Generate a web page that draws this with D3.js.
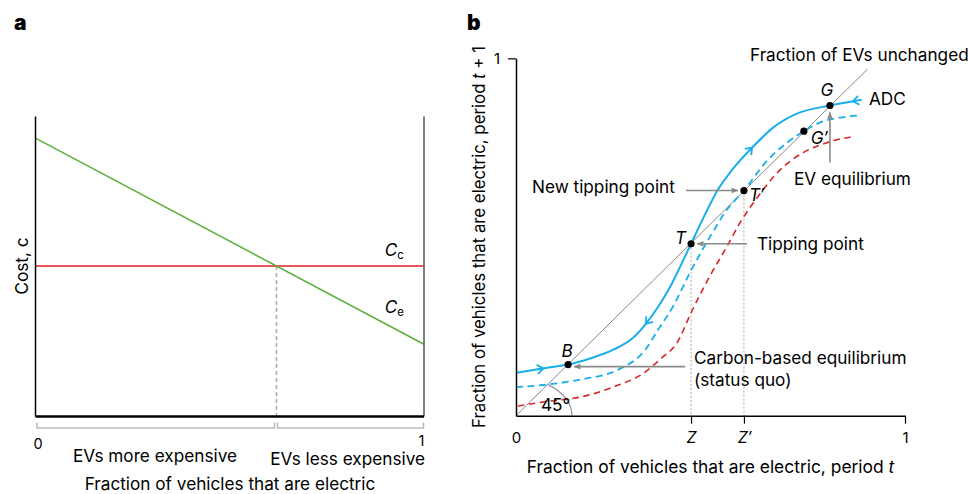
<!DOCTYPE html>
<html><head><meta charset="utf-8">
<script src="https://cdn.jsdelivr.net/npm/d3@7"></script>
<style>html,body{margin:0;padding:0;background:#fff;} svg{display:block;font-family:Inter,"Liberation Sans",Arial,sans-serif;}</style>
</head><body><svg id="c" width="968" height="494"></svg>
<script>
// ---------- Panel a data ----------
const aX = [0, 1];
const costElectric = [0.927, 0.24];
const costCarbon = [0.5, 0.5];
const aTickLabels = ["0", "1"];
const aRegionLabels = ["EVs more expensive", "EVs less expensive"];

// ---------- Panel b data ----------
const adcX = [0, 0.080, 0.134, 0.19, 0.249, 0.301, 0.334, 0.365, 0.396, 0.422, 0.45, 0.481, 0.517, 0.558, 0.607, 0.661, 0.722, 0.807, 0.889];
const adcY = [0.12, 0.134, 0.143, 0.16, 0.184, 0.218, 0.257, 0.304, 0.36, 0.417, 0.481, 0.552, 0.629, 0.691, 0.75, 0.806, 0.845, 0.868, 0.884];
const shiftX = [0, 0.08, 0.165, 0.267, 0.332, 0.365, 0.406, 0.447, 0.499, 0.542, 0.586, 0.645, 0.697, 0.74, 0.781, 0.833, 0.879];
const shiftY = [0.08, 0.087, 0.101, 0.131, 0.184, 0.24, 0.31, 0.4, 0.501, 0.576, 0.63, 0.713, 0.764, 0.796, 0.82, 0.834, 0.84];
const redX = [0.005, 0.087, 0.165, 0.249, 0.332, 0.375, 0.414, 0.45, 0.496, 0.542, 0.576, 0.62, 0.679, 0.738, 0.799, 0.871];
const redY = [0.027, 0.041, 0.052, 0.08, 0.122, 0.162, 0.204, 0.288, 0.386, 0.473, 0.54, 0.61, 0.688, 0.736, 0.764, 0.782];
const diagX = [0, 0.904];
const diagY = [0, 0.970];
const pointNames = ["B", "T", "T′", "G′", "G"];
const pointX = [0.134, 0.450, 0.586, 0.740, 0.807];
const pointY = [0.143, 0.481, 0.630, 0.796, 0.868];
const bTickValues = [0, 0.450, 0.586, 1];
const bTickLabels = ["0", "Z", "Z′", "1"];
const arrowX = [0.07, 0.334, 0.607, 0.866];
const arrowDir = [1, -1, 1, -1];

const svg = d3.select("#c");
const BLUE = "#1aaeea", RED = "#d7262b", GREY = "#8a8a8a";
const FS = 17.2;

const defs = svg.append("defs");
defs.append("marker").attr("id", "ah").attr("viewBox", "0 0 10 10").attr("refX", 9).attr("refY", 5)
  .attr("markerWidth", 10).attr("markerHeight", 7).attr("markerUnits", "userSpaceOnUse").attr("orient", "auto")
  .append("path").attr("d", "M0,1L10,5L0,9z").attr("fill", GREY);

svg.append("text").attr("x", 14).attr("y", 30).attr("font-size", 21).attr("font-weight", 900).text("a");
svg.append("text").attr("x", 467).attr("y", 30).attr("font-size", 21).attr("font-weight", 900).text("b");

// ================= Panel a =================
const xA = d3.scaleLinear().domain([0, 1]).range([35, 423.5]);
const yA = d3.scaleLinear().domain([0, 1]).range([416, 116]);
const gA = svg.append("g");

const slope = (costElectric[1] - costElectric[0]) / (aX[1] - aX[0]);
const xCross = aX[0] + (costCarbon[0] - costElectric[0]) / slope;

gA.append("line").attr("x1", xA(xCross)).attr("x2", xA(xCross)).attr("y1", yA(costCarbon[0])).attr("y2", yA(0))
  .attr("stroke", "#aaa").attr("stroke-width", 1.5).attr("stroke-dasharray", "4,3");

const lineA = d3.line().x((d, i) => xA(aX[i])).y(d => yA(d));
gA.append("path").attr("d", lineA(costCarbon)).attr("stroke", "#e31e24").attr("stroke-width", 1.5).attr("fill", "none");
gA.append("path").attr("d", lineA(costElectric)).attr("stroke", "#5ab03c").attr("stroke-width", 1.5).attr("fill", "none");

gA.append("g").attr("transform", `translate(${xA(0)},0)`).call(d3.axisLeft(yA).tickValues([]).tickSizeOuter(0))
  .select(".domain").attr("stroke", "#000").attr("stroke-width", 1.5);
gA.append("g").attr("transform", `translate(${xA(1)},0)`).call(d3.axisRight(yA).tickValues([]).tickSizeOuter(0))
  .select(".domain").attr("stroke", "#555").attr("stroke-width", 1.5);
gA.append("g").attr("transform", `translate(0,${yA(0)})`).call(d3.axisBottom(xA).tickValues([]).tickSizeOuter(0))
  .select(".domain").attr("stroke", "#000").attr("stroke-width", 2.5);

const bY0 = yA(0) + 6.5, bY1 = yA(0) + 12;
const brackets = [[xA(0) + 2, xA(xCross) - 2], [xA(xCross) + 1, xA(1)]];
brackets.forEach(b => {
  gA.append("path").attr("d", `M${b[0]},${bY0}V${bY1}H${b[1]}V${bY0}`).attr("fill", "none").attr("stroke", "#bbb").attr("stroke-width", 1.5);
});

gA.append("text").attr("x", xA(0) + 3).attr("y", 449).attr("text-anchor", "middle").attr("font-size", 14.5).text(aTickLabels[0]);
gA.append("text").attr("x", xA(1) - 2).attr("y", 446).attr("text-anchor", "middle").attr("font-size", 14.5).text(aTickLabels[1]);
gA.append("text").attr("x", 155).attr("y", 462).attr("text-anchor", "middle").attr("font-size", FS).text(aRegionLabels[0]);
gA.append("text").attr("x", xA(1) + 1.5).attr("y", 465).attr("text-anchor", "end").attr("font-size", FS).text(aRegionLabels[1]);
gA.append("text").attr("x", 230).attr("y", 490).attr("text-anchor", "middle").attr("font-size", FS).text("Fraction of vehicles that are electric");
gA.append("text").attr("transform", `translate(28,${yA(0.5)}) rotate(-90)`).attr("text-anchor", "middle").attr("font-size", FS).text("Cost, c");

const cc = gA.append("text").attr("x", xA(0.9)).attr("y", yA(costCarbon[0]) - 10).attr("font-size", FS).attr("font-style", "italic");
cc.append("tspan").text("C");
cc.append("tspan").attr("font-style", "normal").attr("font-size", 11.5).attr("dy", 3).text("c");
const ce = gA.append("text").attr("x", xA(0.9)).attr("y", yA(costElectric[0] + slope * 0.9) - 10).attr("font-size", FS).attr("font-style", "italic");
ce.append("tspan").text("C");
ce.append("tspan").attr("font-style", "normal").attr("font-size", 11.5).attr("dy", 3).text("e");

// ================= Panel b =================
const xB = d3.scaleLinear().domain([0, 1]).range([516, 905]);
const yB = d3.scaleLinear().domain([0, 1]).range([415.7, 58.3]);
const gB = svg.append("g");

gB.append("path").attr("d", `M${xB(0) + 32},${yB(0) - 31}A56,38 0 0 1 ${xB(0) + 56},${yB(0)}`)
  .attr("fill", "none").attr("stroke", "#999").attr("stroke-width", 1.3);

[1, 2].forEach(i => {
  gB.append("line").attr("x1", xB(pointX[i])).attr("x2", xB(pointX[i])).attr("y1", yB(pointY[i])).attr("y2", yB(0))
    .attr("stroke", "#aaa").attr("stroke-width", 1).attr("stroke-dasharray", "2,2");
});

const diagLine = d3.line().x((d, i) => xB(diagX[i])).y(d => yB(d));
gB.append("path").attr("d", diagLine(diagY)).attr("stroke", "#888").attr("stroke-width", 1).attr("fill", "none");

const mk = (xs) => d3.line().curve(d3.curveMonotoneX).x((d, i) => xB(xs[i])).y(d => yB(d));
gB.append("path").attr("d", mk(redX)(redY)).attr("fill", "none").attr("stroke", RED).attr("stroke-width", 1.6).attr("stroke-dasharray", "6.5,4.5");
gB.append("path").attr("d", mk(shiftX)(shiftY)).attr("fill", "none").attr("stroke", BLUE).attr("stroke-width", 1.8).attr("stroke-dasharray", "7,4.5");
const adcPath = gB.append("path").attr("d", mk(adcX)(adcY)).attr("fill", "none").attr("stroke", BLUE).attr("stroke-width", 2);

const node = adcPath.node();
const L = node.getTotalLength();
function lenAtX(px) {
  let lo = 0, hi = L;
  for (let k = 0; k < 40; k++) { const m = (lo + hi) / 2; if (node.getPointAtLength(m).x < px) lo = m; else hi = m; }
  return lo;
}
arrowX.forEach((ax, i) => {
  const l = lenAtX(xB(ax));
  const p = node.getPointAtLength(l), p2 = node.getPointAtLength(Math.min(L, l + 1));
  let ang = Math.atan2(p2.y - p.y, p2.x - p.x) * 180 / Math.PI;
  if (arrowDir[i] < 0) ang += 180;
  gB.append("path").attr("d", "M-6,-4.5L0,0L-6,4.5").attr("transform", `translate(${p.x},${p.y}) rotate(${ang})`)
    .attr("fill", "none").attr("stroke", BLUE).attr("stroke-width", 1.8);
});

const xAxB = gB.append("g").attr("transform", `translate(0,${yB(0)})`)
  .call(d3.axisBottom(xB).tickValues(bTickValues).tickFormat((d, i) => bTickLabels[i]).tickSize(8).tickSizeOuter(0));
xAxB.select(".domain").attr("stroke", "#000").attr("stroke-width", 1.5);
xAxB.selectAll(".tick line").attr("stroke", "#000").attr("stroke-width", 1.2).filter(d => d === 0).remove();
xAxB.selectAll(".tick text").attr("fill", "#000").attr("font-family", "Inter,'Liberation Sans',Arial,sans-serif")
  .attr("font-size", (d, i) => (i === 1 || i === 2) ? 16 : 15)
  .attr("y", 27).attr("dy", 0).attr("font-style", (d, i) => (i === 1 || i === 2) ? "italic" : "normal");

const yAxB = gB.append("g").attr("transform", `translate(${xB(0)},0)`)
  .call(d3.axisLeft(yB).tickValues([1]).tickFormat(() => "1").tickSize(8).tickSizeOuter(0));
yAxB.select(".domain").attr("stroke", "#000").attr("stroke-width", 1.5);
yAxB.selectAll(".tick line").attr("stroke", "#000").attr("stroke-width", 1.2);
yAxB.selectAll(".tick text").attr("fill", "#000").attr("font-size", 15).attr("font-family", "Inter,'Liberation Sans',Arial,sans-serif").attr("x", -16).attr("dy", "0.36em");

gB.append("text").attr("x", 710.5).attr("y", 473.3).attr("text-anchor", "middle").attr("font-size", 17.4)
  .html('Fraction of vehicles that are electric, period <tspan font-style="italic">t</tspan>');
gB.append("text").attr("transform", "translate(485,237) rotate(-90)").attr("text-anchor", "middle").attr("font-size", 16.8)
  .html('Fraction of vehicles that are electric, period <tspan font-style="italic">t</tspan> + 1');

function arrow(x1, y1, x2, y2) {
  gB.append("line").attr("x1", x1).attr("y1", y1).attr("x2", x2).attr("y2", y2)
    .attr("stroke", GREY).attr("stroke-width", 1.6).attr("marker-end", "url(#ah)");
}
const P = pointX.map((d, i) => [xB(d), yB(pointY[i])]);
arrow(P[0][0] + 117, P[0][1] + 2, P[0][0] + 6, P[0][1] + 2);
arrow(P[1][0] + 56, P[1][1], P[1][0] + 6, P[1][1]);
arrow(P[2][0] - 58, P[2][1], P[2][0] - 6, P[2][1]);
arrow(P[4][0], P[4][1] + 57, P[4][0], P[4][1] + 7);

gB.selectAll("circle.pt").data(pointX).enter().append("circle").attr("class", "pt")
  .attr("cx", d => xB(d)).attr("cy", (d, i) => yB(pointY[i])).attr("r", 3.6).attr("fill", "#000");

const lbl = [[-1, -8, "middle"], [-5, 0, "end"], [5, 10, "start"], [7, 13, "start"], [-3, -9, "middle"]];
pointNames.forEach((n, i) => {
  gB.append("text").attr("x", P[i][0] + lbl[i][0]).attr("y", P[i][1] + lbl[i][1]).attr("text-anchor", lbl[i][2])
    .attr("font-size", FS).attr("font-style", "italic").text(n);
});

const ann = (x, y, t) => gB.append("text").attr("x", x).attr("y", y).attr("font-size", FS).text(t);
ann(750, 61, "Fraction of EVs unchanged");
ann(869, 105, "ADC");
ann(794, 185, "EV equilibrium");
ann(532, 193, "New tipping point");
ann(757, 250, "Tipping point");
ann(694, 364, "Carbon-based equilibrium");
ann(694, 385.7, "(status quo)");
ann(541, 410.7, "45°");
</script></body></html>
